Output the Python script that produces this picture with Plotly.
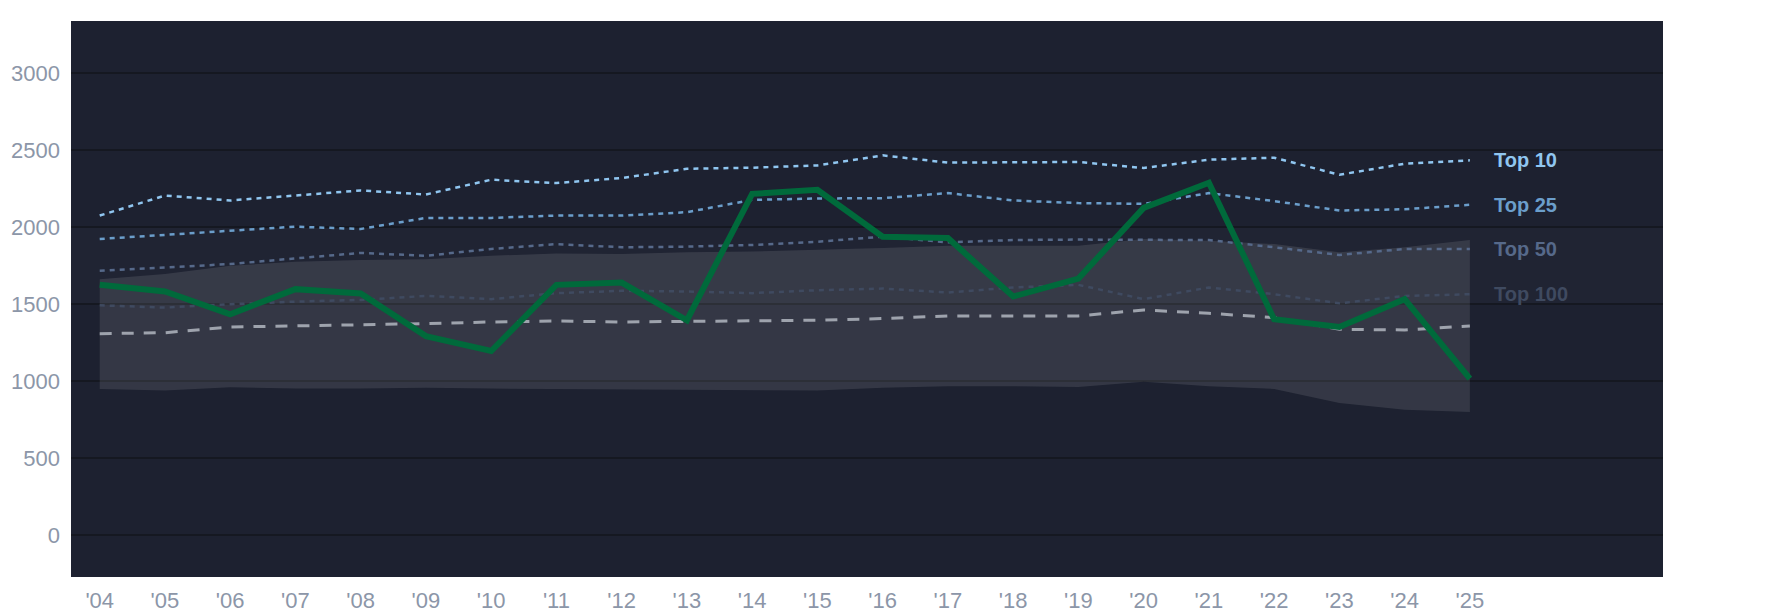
import plotly.graph_objects as go

years = list(range(2004, 2026))
year_labels = ["'" + str(y)[2:] for y in years]

top10 = [2076, 2206, 2174, 2206, 2239, 2213, 2309, 2287, 2320, 2380, 2387, 2402,
         2467, 2420, 2420, 2424, 2385, 2439, 2452, 2341, 2413, 2435]
top25 = [1924, 1952, 1978, 2004, 1989, 2061, 2061, 2076, 2076, 2098, 2178, 2187,
         2189, 2222, 2174, 2157, 2152, 2222, 2170, 2109, 2117, 2146]
top50 = [1717, 1739, 1761, 1798, 1833, 1815, 1859, 1891, 1870, 1874, 1885, 1906,
         1939, 1902, 1917, 1920, 1920, 1917, 1870, 1820, 1859, 1859]
top100 = [1493, 1478, 1500, 1517, 1528, 1554, 1533, 1572, 1587, 1583, 1572, 1591,
          1602, 1576, 1609, 1626, 1533, 1609, 1565, 1506, 1554, 1565]
median = [1309, 1315, 1352, 1359, 1365, 1374, 1385, 1391, 1385, 1389, 1389, 1396,
          1407, 1424, 1424, 1424, 1463, 1441, 1413, 1337, 1333, 1359]
player = [1626, 1583, 1435, 1598, 1570, 1293, 1196, 1626, 1641, 1396, 2217, 2243,
          1939, 1930, 1550, 1667, 2126, 2289, 1402, 1352, 1533, 1017]
band_low = [950, 939, 961, 952, 952, 957, 952, 950, 946, 946, 941, 939,
            957, 967, 967, 963, 996, 967, 950, 859, 815, 800]
band_high = [1663, 1696, 1750, 1776, 1787, 1793, 1815, 1830, 1826, 1837, 1843, 1852,
             1865, 1880, 1880, 1880, 1924, 1913, 1891, 1837, 1870, 1917]

tiers = [
    ("Top 10", top10, "#90c6f0"),
    ("Top 25", top25, "#6b9ecb"),
    ("Top 50", top50, "#56698a"),
    ("Top 100", top100, "#3f4a60"),
]

fig = go.Figure()

# spread band
fig.add_trace(go.Scatter(x=years, y=band_low, mode="lines",
                         line=dict(width=0), hoverinfo="skip", showlegend=False))
fig.add_trace(go.Scatter(x=years, y=band_high, mode="lines", fill="tonexty",
                         fillcolor="rgba(255,255,255,0.1)",
                         line=dict(width=0), hoverinfo="skip", showlegend=False))

for name, vals, color in reversed(tiers):
    fig.add_trace(go.Scatter(x=years, y=vals, mode="lines", name=name,
                             line=dict(color=color, width=2.5, dash="5px,5px"),
                             showlegend=False))
    fig.add_annotation(x=years[-1], y=vals[-1], text="<b>" + name + "</b>",
                       showarrow=False, xanchor="left", yanchor="middle",
                       xshift=22, font=dict(size=20, color=color))

fig.add_trace(go.Scatter(x=years, y=median, mode="lines", name="Median",
                         line=dict(color="#9ea3ad", width=3, dash="12px,10px"),
                         showlegend=False))
fig.add_trace(go.Scatter(x=years, y=player, mode="lines", name="Player",
                         line=dict(color="#006a3b", width=6),
                         showlegend=False))

fig.add_hrect(y0=1500, y1=2000, fillcolor="rgba(255,255,255,0.015)",
              line_width=0, layer="below")

fig.update_xaxes(
    range=[2003.56, 2027.96],
    tickvals=years,
    ticktext=year_labels,
    showgrid=False,
    zeroline=False,
    automargin=False,
    ticklabelstandoff=8,
)
fig.update_yaxes(
    range=[-272, 3340],
    tickvals=[0, 500, 1000, 1500, 2000, 2500, 3000],
    showgrid=True,
    gridcolor="#151821",
    gridwidth=2,
    zeroline=False,
    automargin=False,
    ticklabelstandoff=10,
)

fig.update_layout(
    width=1785,
    height=614,
    margin=dict(l=63, r=130, t=13, b=45),
    paper_bgcolor="#ffffff",
    plot_bgcolor="#1d2130",
    font=dict(family="Liberation Sans, Arial, sans-serif", size=22, color="#8c96a8"),
    showlegend=False,
)

fig.write_html("out.html")
